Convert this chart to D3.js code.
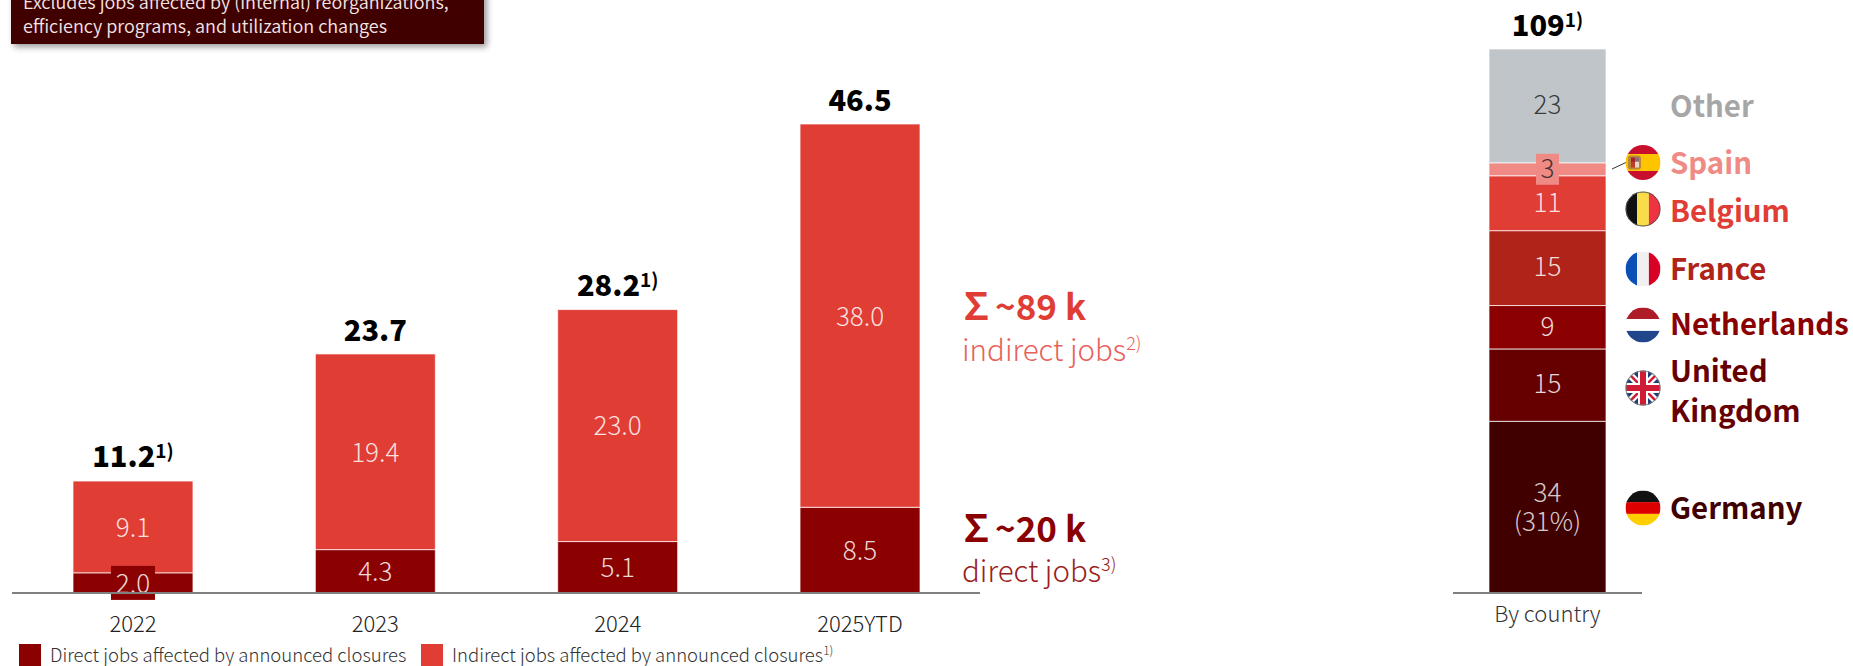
<!DOCTYPE html>
<html lang="en">
<head>
<meta charset="utf-8">
<title>Jobs affected by announced closures</title>
<script src="https://d3js.org/d3.v7.min.js"></script>
<style>
html, body { margin: 0; padding: 0; background: #fff; overflow: hidden; }
text { font-family: "Noto Sans CJK SC", "Noto Sans", sans-serif; }
</style>
</head>
<body>
<div id="chart"></div>
<script>
// left chart, k jobs
var years = ['2022', '2023', '2024', '2025YTD'];
var directJobs = [2.0, 4.3, 5.1, 8.5];
var indirectJobs = [9.1, 19.4, 23.0, 38.0];
var yearTotals = [11.2, 23.7, 28.2, 46.5];
var totalNotes = ['1)', '', '1)', ''];

// right chart, bottom to top. rounded labels don't add up to 109 so heights are read off the bar
var countries = ['Germany', 'United Kingdom', 'Netherlands', 'France', 'Belgium', 'Spain', 'Other'];
var countryValues = [34.4, 14.5, 8.7, 15.0, 11.0, 2.6, 22.8];
var countryLabels = ['34', '15', '9', '15', '11', '3', '23'];
var countryColors = ['#400000', '#660000', '#8b0000', '#b02318', '#e03d35', '#ef8a84', '#c0c5c9'];

var width = 1853, height = 666;
var baseY = 593;
var RED = '#e03d35', DARK = '#8b0000';

var svg = d3.select('#chart').append('svg')
    .attr('width', width).attr('height', height);

var defs = svg.append('defs');
defs.append('filter').attr('id', 'shadow')
    .attr('x', '-5%').attr('y', '-20%').attr('width', '110%').attr('height', '150%')
    .append('feDropShadow')
    .attr('dx', 3).attr('dy', 3).attr('stdDeviation', 3)
    .attr('flood-color', '#000').attr('flood-opacity', 0.4);

// note box, cut off by the top of the picture
svg.append('rect')
    .attr('x', 11).attr('y', -40).attr('width', 473).attr('height', 84)
    .attr('fill', '#400000').attr('filter', 'url(#shadow)');
svg.append('text').attr('x', 23).attr('y', 9)
    .attr('font-size', 18).attr('font-weight', 350).attr('fill', '#f4e6e6')
    .text('Excludes jobs affected by (internal) reorganizations,');
svg.append('text').attr('x', 23).attr('y', 33)
    .attr('font-size', 18).attr('font-weight', 350).attr('fill', '#f4e6e6')
    .text('efficiency programs, and utilization changes');

// ---- left chart
var x = d3.scaleBand().domain(years).range([73, 920]).paddingInner(0.505);
var y = d3.scaleLinear().domain([0, 46.5]).range([baseY, 124]);

var rows = years.map(function (d, i) {
    return { year: d, direct: directJobs[i], indirect: indirectJobs[i] };
});
var stack = d3.stack().keys(['direct', 'indirect'])(rows);
var stackColor = { direct: DARK, indirect: RED };
var cells = stack.reduce(function (all, s) {
    return all.concat(s.map(function (d) { return { key: s.key, d: d }; }));
}, []);

svg.selectAll('.cell').data(cells).enter().append('rect')
    .attr('class', 'cell')
    .attr('x', function (r) { return x(r.d.data.year); })
    .attr('y', function (r) { return y(r.d[1]); })
    .attr('width', x.bandwidth())
    .attr('height', function (r) { return y(r.d[0]) - y(r.d[1]); })
    .attr('fill', function (r) { return stackColor[r.key]; })
    .attr('stroke', '#fff').attr('stroke-opacity', 0.7).attr('stroke-width', 1);

// the 2.0 label doesn't fit in its segment, gets a backing box
var smallRow = rows[0];
svg.append('rect')
    .attr('x', x(smallRow.year) + x.bandwidth() / 2 - 22)
    .attr('y', y(smallRow.direct / 2) - 17)
    .attr('width', 44).attr('height', 34)
    .attr('fill', DARK);

svg.selectAll('.val').data(cells).enter().append('text')
    .attr('class', 'val')
    .attr('x', function (r) { return x(r.d.data.year) + x.bandwidth() / 2; })
    .attr('y', function (r) { return y((r.d[0] + r.d[1]) / 2); })
    .attr('dy', '0.38em')
    .attr('text-anchor', 'middle')
    .attr('font-size', 26).attr('font-weight', 300)
    .attr('fill', '#fff').attr('fill-opacity', 0.85)
    .text(function (r) { return d3.format('.1f')(r.d[1] - r.d[0]); });

// totals above the bars
var totals = svg.selectAll('.total').data(years).enter().append('text')
    .attr('class', 'total')
    .attr('x', function (d) { return x(d) + x.bandwidth() / 2; })
    .attr('y', function (d, i) { return y(yearTotals[i]) - 13; })
    .attr('text-anchor', 'middle')
    .attr('font-size', 29).attr('font-weight', 900).attr('fill', '#000');
totals.append('tspan').text(function (d, i) { return d3.format('.1f')(yearTotals[i]); });
totals.append('tspan')
    .attr('dy', -9).attr('font-size', 19).attr('font-weight', 700)
    .text(function (d, i) { return totalNotes[i]; });

var xAxis = svg.append('g').attr('transform', 'translate(0,' + baseY + ')')
    .call(d3.axisBottom(x).tickSize(0).tickPadding(0));
xAxis.select('.domain').remove();
xAxis.selectAll('text')
    .attr('y', 39).attr('dy', 0)
    .attr('font-size', 22).attr('font-weight', 300)
    .style('font-family', '"Noto Sans CJK SC", sans-serif')
    .attr('fill', '#222');
svg.append('line').attr('x1', 12).attr('x2', 980).attr('y1', baseY).attr('y2', baseY)
    .attr('stroke', '#808080').attr('stroke-width', 2);

// legend
var legendItems = [
    { x: 19, color: DARK, label: 'Direct jobs affected by announced closures', note: '' },
    { x: 421, color: RED, label: 'Indirect jobs affected by announced closures', note: '1)' }
];
var legend = svg.selectAll('.legend').data(legendItems).enter().append('g').attr('class', 'legend');
legend.append('rect')
    .attr('x', function (d) { return d.x; }).attr('y', 644)
    .attr('width', 22).attr('height', 22)
    .attr('fill', function (d) { return d.color; });
var legendText = legend.append('text')
    .attr('x', function (d) { return d.x + 31; }).attr('y', 662)
    .attr('font-size', 18.5).attr('font-weight', 300).attr('fill', '#333');
legendText.append('tspan').text(function (d) { return d.label; });
legendText.append('tspan').attr('dy', -7).attr('font-size', 12)
    .text(function (d) { return d.note; });

// sum callouts
function callout(top, bottom, note, color, lightColor, y1, y2) {
    var h = svg.append('text').attr('x', 958).attr('y', y1)
        .attr('font-size', 37).attr('font-weight', 700).attr('fill', color);
    h.append('tspan').text('∑');
    h.append('tspan').attr('dx', 0).attr('font-size', 35).text(top);
    var t = svg.append('text').attr('x', 962).attr('y', y2)
        .attr('font-size', 29.5).attr('font-weight', 300).attr('fill', lightColor);
    t.append('tspan').text(bottom);
    t.append('tspan').attr('dy', -11).attr('font-size', 18).text(note);
}
callout('~89 k', 'indirect jobs', '2)', RED, '#e8605a', 320, 361);
callout('~20 k', 'direct jobs', '3)', DARK, '#9a2020', 542, 582);

// ---- right chart
var xc = d3.scaleBand().domain(['By country']).range([1489, 1606]);
var yc = d3.scaleLinear().domain([0, d3.sum(countryValues)]).range([baseY, 49]);

var acc = 0;
var segments = countries.map(function (c, i) {
    var s = { name: c, y0: acc, y1: acc + countryValues[i], label: countryLabels[i], color: countryColors[i] };
    acc = s.y1;
    return s;
});
svg.selectAll('.seg').data(segments).enter().append('rect')
    .attr('class', 'seg')
    .attr('x', xc('By country'))
    .attr('y', function (d) { return yc(d.y1); })
    .attr('width', xc.bandwidth())
    .attr('height', function (d) { return yc(d.y0) - yc(d.y1); })
    .attr('fill', function (d) { return d.color; })
    .attr('stroke', '#fff').attr('stroke-opacity', 0.7).attr('stroke-width', 1);

var cx = xc('By country') + xc.bandwidth() / 2;
var spain = segments[5];
svg.append('rect')
    .attr('x', cx - 11.5).attr('y', yc((spain.y0 + spain.y1) / 2) - 15.5)
    .attr('width', 23).attr('height', 31)
    .attr('fill', spain.color);

svg.selectAll('.segval').data(segments.slice(1)).enter().append('text')
    .attr('class', 'segval')
    .attr('x', cx)
    .attr('y', function (d) { return yc((d.y0 + d.y1) / 2); })
    .attr('dy', '0.32em')
    .attr('text-anchor', 'middle')
    .attr('font-size', 26).attr('font-weight', 300)
    .attr('fill', function (d) { return d.name === 'Other' || d.name === 'Spain' ? '#222' : '#fff'; })
    .attr('fill-opacity', 0.85)
    .text(function (d) { return d.label; });
var germany = svg.append('text').attr('text-anchor', 'middle')
    .attr('font-size', 26).attr('font-weight', 300)
    .attr('fill', '#fff').attr('fill-opacity', 0.8);
germany.append('tspan').attr('x', cx).attr('y', 502).text(segments[0].label);
germany.append('tspan').attr('x', cx).attr('y', 531).text('(31%)');

var total = svg.append('text').attr('x', cx).attr('y', 36).attr('text-anchor', 'middle')
    .attr('font-size', 29).attr('font-weight', 900).attr('fill', '#000');
total.append('tspan').text(d3.format('d')(yc.domain()[1]));
total.append('tspan').attr('dy', -9).attr('font-size', 19).attr('font-weight', 700).text('1)');

var xcAxis = svg.append('g').attr('transform', 'translate(0,' + baseY + ')')
    .call(d3.axisBottom(xc).tickSize(0).tickPadding(0));
xcAxis.select('.domain').remove();
xcAxis.selectAll('text')
    .attr('y', 29).attr('dy', 0)
    .attr('font-size', 22).attr('font-weight', 300)
    .style('font-family', '"Noto Sans CJK SC", sans-serif')
    .attr('fill', '#333');
svg.append('line').attr('x1', 1453).attr('x2', 1642).attr('y1', baseY).attr('y2', baseY)
    .attr('stroke', '#808080').attr('stroke-width', 2);

// country names
var nameLabels = [
    { lines: ['Other'], y: [117], color: '#a6a6a6' },
    { lines: ['Spain'], y: [174], color: '#ef8a84' },
    { lines: ['Belgium'], y: [222], color: '#e03d35' },
    { lines: ['France'], y: [280], color: '#b02318' },
    { lines: ['Netherlands'], y: [335], color: '#8b0000' },
    { lines: ['United', 'Kingdom'], y: [382, 422], color: '#660000' },
    { lines: ['Germany'], y: [519], color: '#400000' }
];
nameLabels.forEach(function (n) {
    n.lines.forEach(function (l, i) {
        svg.append('text').attr('x', 1670).attr('y', n.y[i])
            .attr('font-size', 29.4).attr('font-weight', 700).attr('fill', n.color).text(l);
    });
});

// leader for the thin Spain segment
svg.append('line').attr('x1', 1612).attr('y1', 169).attr('x2', 1627).attr('y2', 162)
    .attr('stroke', '#333').attr('stroke-width', 1);

// flags, drawn in a -17..17 box and clipped to a circle
var R = 17.5;
defs.append('clipPath').attr('id', 'flagClip').append('circle').attr('r', R);

function flag(cy, draw) {
    var g = svg.append('g').attr('transform', 'translate(1643,' + cy + ')');
    var inner = g.append('g').attr('clip-path', 'url(#flagClip)');
    draw(inner);
    return g;
}
function hStripes(g, colors, sizes) {
    var top = -R;
    colors.forEach(function (c, i) {
        g.append('rect').attr('x', -R).attr('y', top).attr('width', 2 * R).attr('height', sizes[i]).attr('fill', c);
        top += sizes[i];
    });
}
function vStripes(g, colors, sizes) {
    var left = -R;
    colors.forEach(function (c, i) {
        g.append('rect').attr('x', left).attr('y', -R).attr('width', sizes[i]).attr('height', 2 * R).attr('fill', c);
        left += sizes[i];
    });
}

flag(162.5, function (g) {
    hStripes(g, ['#c8102e', '#ffc400', '#c8102e'], [9, 17, 9]);
    g.append('rect').attr('x', -15).attr('y', -7).attr('width', 13).attr('height', 14).attr('rx', 3).attr('fill', '#b8863a');
    g.append('rect').attr('x', -12).attr('y', -5).attr('width', 4).attr('height', 5).attr('fill', '#a8242a');
    g.append('rect').attr('x', -8).attr('y', -1).attr('width', 4).attr('height', 6).attr('fill', '#e8d8c0');
    g.append('rect').attr('x', -8).attr('y', -5).attr('width', 4).attr('height', 4).attr('fill', '#8a6a80');
    g.append('rect').attr('x', -12).attr('y', 0).attr('width', 4).attr('height', 5).attr('fill', '#c0392b');
});
flag(209, function (g) {
    vStripes(g, ['#111', '#f9dc4a', '#ef3340'], [11.6, 11.8, 11.6]);
}).append('circle').attr('r', R - 0.5).attr('fill', 'none').attr('stroke', '#555').attr('stroke-width', 1);
flag(269, function (g) {
    vStripes(g, ['#0a4fb5', '#f0f0f0', '#d90026'], [11.6, 11.8, 11.6]);
});
flag(325, function (g) {
    hStripes(g, ['#ae1c28', '#fff', '#21468b'], [11.6, 11.8, 11.6]);
});
flag(388, function (g) {
    g.append('rect').attr('x', -R).attr('y', -R).attr('width', 2 * R).attr('height', 2 * R).attr('fill', '#1d3f72');
    [[-R, -R, R, R], [-R, R, R, -R]].forEach(function (p) {
        g.append('line').attr('x1', p[0]).attr('y1', p[1]).attr('x2', p[2]).attr('y2', p[3])
            .attr('stroke', '#fff').attr('stroke-width', 7);
        g.append('line').attr('x1', p[0]).attr('y1', p[1]).attr('x2', p[2]).attr('y2', p[3])
            .attr('stroke', '#cf1b35').attr('stroke-width', 2.5);
    });
    g.append('rect').attr('x', -R).attr('y', -5).attr('width', 2 * R).attr('height', 10).attr('fill', '#fff');
    g.append('rect').attr('x', -5).attr('y', -R).attr('width', 10).attr('height', 2 * R).attr('fill', '#fff');
    g.append('rect').attr('x', -R).attr('y', -3).attr('width', 2 * R).attr('height', 6).attr('fill', '#cf1b35');
    g.append('rect').attr('x', -3).attr('y', -R).attr('width', 6).attr('height', 2 * R).attr('fill', '#cf1b35');
}).append('circle').attr('r', R - 0.5).attr('fill', 'none').attr('stroke', '#777').attr('stroke-width', 1);
flag(508, function (g) {
    hStripes(g, ['#111', '#dd0000', '#ffce00'], [11.6, 11.8, 11.6]);
});
</script>
</body>
</html>
